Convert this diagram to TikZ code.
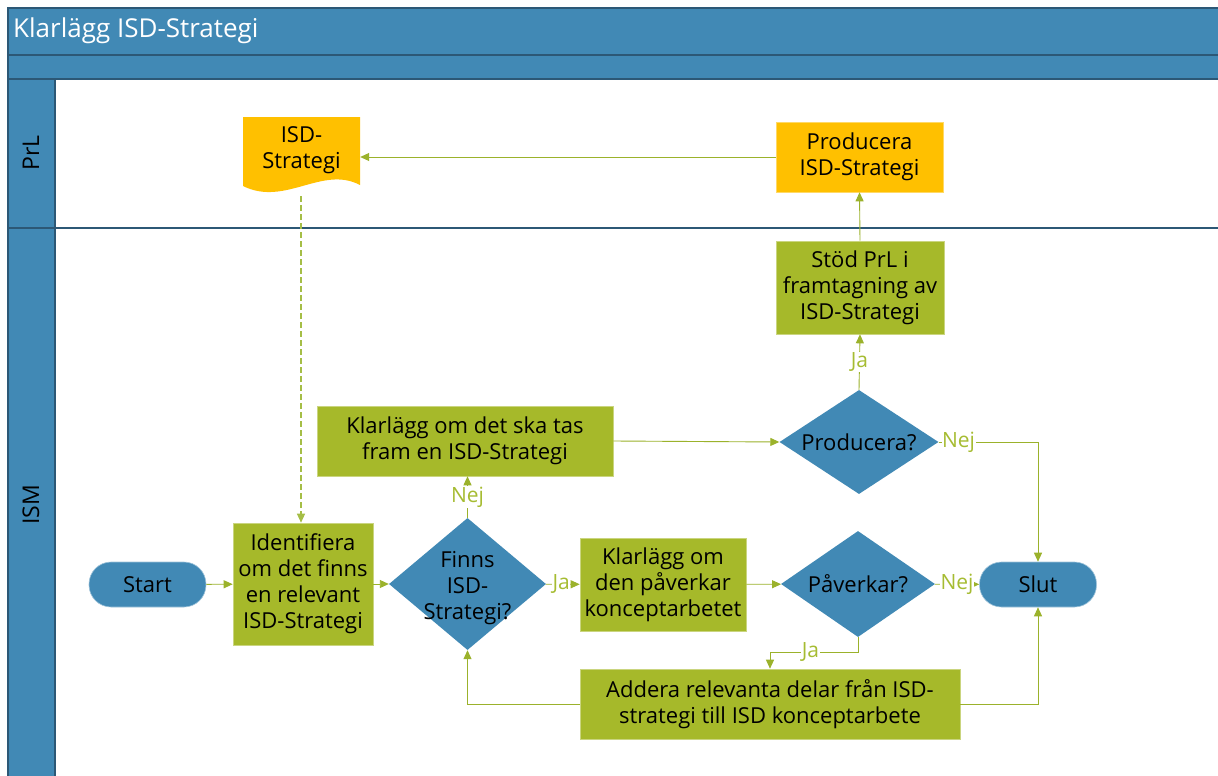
\documentclass[tikz,border=0pt]{standalone}
\usepackage{fontspec}
\setmainfont{Open Sans}
\usetikzlibrary{shapes.geometric,arrows.meta,calc}
\definecolor{lane}{RGB}{65,137,181}
\definecolor{laneline}{RGB}{44,88,118}
\definecolor{yel}{RGB}{255,192,0}
\definecolor{grn}{RGB}{166,185,42}
\definecolor{conn}{RGB}{155,178,43}
\definecolor{lbl}{RGB}{166,188,50}
\definecolor{dashc}{RGB}{165,190,70}
\newcommand\nodefont{\fontsize{22}{26}\selectfont}
\newcommand\lblfont{\fontsize{21}{24}\selectfont}
\begin{document}
\begin{tikzpicture}[x=1pt,y=-1pt,
  proc/.style={fill=grn, draw=grn!60!white, line width=0.6pt, inner sep=0pt, align=center, font=\nodefont},
  yproc/.style={fill=yel, draw=yel!60!white, line width=0.6pt, inner sep=0pt, align=center, font=\nodefont},
  term/.style={fill=lane, draw=lane!50!white, line width=0.6pt, rounded corners=22pt, minimum width=117pt, minimum height=45pt, inner sep=0pt, font=\nodefont},
  dec/.style={diamond, fill=lane, draw=none, inner sep=0pt},
  dectext/.style={align=center, font=\nodefont, inner sep=0pt},
  flow/.style={draw=conn, line width=0.9pt, -{Triangle[length=9pt,width=8pt]}},
  lab/.style={fill=white, text=lbl, inner sep=0.5pt, font=\lblfont},
  border/.style={draw=laneline, line width=1.2pt}
]
\useasboundingbox (0,0) rectangle (1218,776);
\fill[white] (0,0) rectangle (1218,776);
% pool header
\fill[lane] (8,8) rectangle (1218,79);
\fill[lane] (8,79) rectangle (55,776);
\draw[border] (8,776) -- (8,8) -- (1218,8);
\draw[border] (8,55) -- (1218,55);
\draw[border] (8,79) -- (1218,79);
\draw[border] (55,79) -- (55,776);
\draw[border] (8,228) -- (1218,228);
\node[anchor=west, text=white, font=\fontsize{26}{30}\selectfont, inner sep=0pt] (title) at (13,31) {Klarlägg ISD-Strategi};
\node[rotate=90, font=\fontsize{23}{26}\selectfont, inner sep=0pt] (prl) at (31,153) {PrL};
\node[rotate=90, font=\fontsize{23}{26}\selectfont, inner sep=0pt] (ism) at (31,505) {ISM};

% document shape
\fill[yel] (243,117) -- (360,117) -- (360,185) .. controls (322,165) and (285,207) .. (243,186) -- cycle;
\node[inner sep=0pt, minimum width=117pt, minimum height=80pt, align=center, font=\nodefont] (doc) at (301.5,150) {ISD-\\Strategi};
\coordinate (docb) at (301,196);

% nodes
\node[yproc, minimum width=167pt, minimum height=70pt] (prodisd) at (859.5,157) {Producera\\ISD-Strategi};
\node[proc, minimum width=168pt, minimum height=93pt] (stod) at (860,287.5) {Stöd PrL i\\framtagning av\\ISD-Strategi};
\node[proc, minimum width=296pt, minimum height=70pt] (klartas) at (465,441) {Klarlägg om det ska tas\\fram en ISD-Strategi};
\node[dec, minimum width=159pt, minimum height=104pt] (prodq) at (859,442) {};
\node[dectext] (prodqt) at (prodq) {Producera?};
\node[term] (start) at (147.5,584.5) {Start};
\node[proc, minimum width=140pt, minimum height=122pt] (ident) at (303,584) {Identifiera\\om det finns\\en relevant\\ISD-Strategi};
\node[dec, minimum width=157pt, minimum height=132pt] (finns) at (467.5,584) {};
\node[dectext] (finnst) at ($(finns)+(0,4)$) {Finns\\ISD-\\Strategi?};
\node[proc, minimum width=166pt, minimum height=93pt] (klarden) at (663,584.5) {Klarlägg om\\den påverkar\\konceptarbetet};
\node[dec, minimum width=154pt, minimum height=106pt] (pav) at (858,584) {};
\node[dectext] (pavt) at (pav) {Påverkar?};
\node[term] (slut) at (1038,584.5) {Slut};
\node[proc, minimum width=380pt, minimum height=70pt] (addera) at (770,704) {Addera relevanta delar från ISD-\\strategi till ISD konceptarbete};

% connectors
\draw[flow] (start) -- (ident);
\draw[flow] (ident) -- (finns);
\draw[flow] (finns) -- node[lab, pos=0.45]{Ja} (klarden);
\draw[flow] (klarden) -- (pav);
\draw[flow] (pav) -- node[lab, pos=0.5]{Nej} (slut);
\draw[flow] (pav.south) -- ++(0,15) -| node[lab, pos=0.27]{Ja} (addera.north);
\draw[flow] (addera.east) -| (slut.south);
\draw[flow] (addera.west) -| (finns.south);
\draw[flow] (finns.north) -- node[lab]{Nej} (finns.north |- klartas.south);
\draw[flow] (klartas.east) -- (prodq.west);
\draw[flow] (prodq.east) -| node[lab, pos=0.1]{Nej} (slut.north);
\draw[flow] (prodq.north) -- node[lab]{Ja} (stod.south);
\draw[flow] (stod.north) -- (prodisd.south);
\draw[flow] (prodisd.west) -- (prodisd.west -| doc.east);
\draw[flow, draw=dashc, line width=1.2pt, dash pattern=on 6pt off 3pt] (docb) -- (docb |- ident.north);
\end{tikzpicture}
\end{document}
